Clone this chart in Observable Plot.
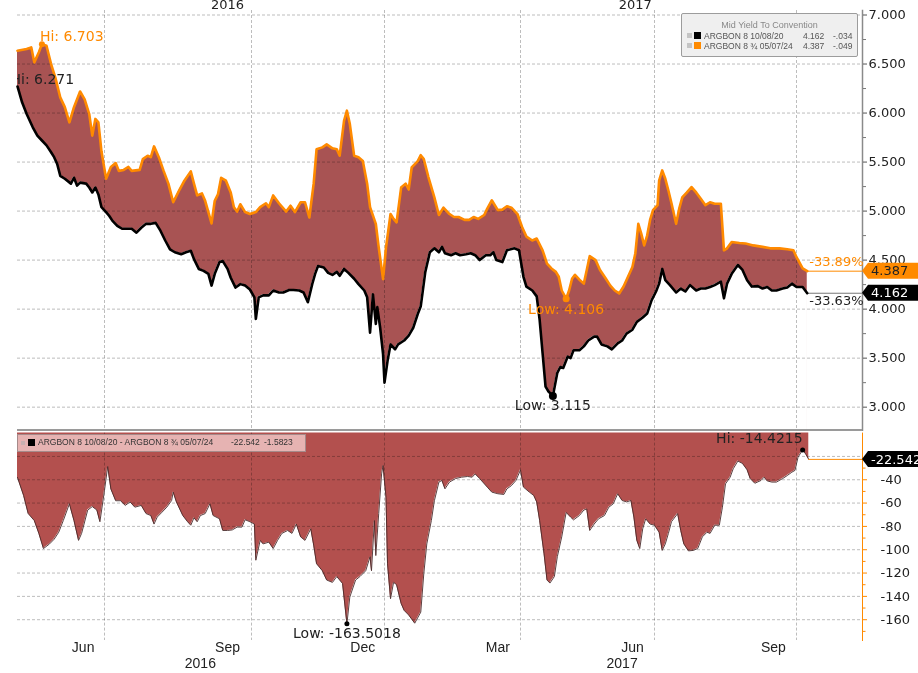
<!DOCTYPE html>
<html>
<head>
<meta charset="utf-8">
<script src="https://cdn.jsdelivr.net/npm/d3@7"></script>
<script src="https://cdn.jsdelivr.net/npm/@observablehq/plot@0.6"></script>
<style>
  html, body { margin: 0; padding: 0; background: #fff; }
  #wrap { position: relative; width: 918px; height: 673px; overflow: hidden; background: #fff; }
  #topChart { position: absolute; left: 0; top: 0; }
  #botChart { position: absolute; left: 0; top: 431px; }
  #sep { position: absolute; left: 17px; top: 429px; width: 845px; height: 2px; background: #9a9a9a; }
  .lg { position: absolute; font-family: "Liberation Sans", Arial, sans-serif; white-space: nowrap; }
  .lg span { position: absolute; }
  .lg .sq { display: block; }
  #leg1 { left: 681px; top: 13px; width: 175px; height: 42px; background: #efefef; border: 1px solid #9c9c9c; border-radius: 2px; color: #555; font-size: 8.5px; }
  #leg2 { left: 17px; top: 434px; width: 287px; height: 16px; background: rgba(238, 196, 196, 0.85); border: 1px solid #a58a8a; color: #333; font-size: 8.5px; }
</style>
</head>
<body>
<div id="wrap">
  <div id="topChart"></div>
  <div id="botChart"></div>
  <div id="sep"></div>
  <div id="leg1" class="lg"></div>
  <div id="leg2" class="lg"></div>
</div>
<script>
// ---------------- DATA (day numbers are days after 1 Jul 2016) ----------------
const orangeName = "ARGBON 8 \u00BE 05/07/24";
const blackName = "ARGBON 8 10/08/20";
const legendTitle = "Mid Yield To Convention";
const orangeChange = "-.049";
const blackChange = "-.034";
const spreadChange = "-1.5823";
const orangePct = "-33.89%";
const blackPct = "-33.63%";

const orangeDay = [-57,-51,-48,-46,-43,-41,-38,-35,-32,-29,-26,-23,-20,-16,-13,-10,-8,-6,-4,-2,
  1,4,7,9,12,15,17,22,24,27,29,31,34,37,40,43,47,50,54,56,58,61,63,67,69,71,73,76,79,81,83,85,88,91,
  95,98,102,104,107,111,116,119,122,126,129,132,135,137,141,144,148,151,153,156,158,160,163,166,169,172,174,178,180,183,
  185,188,190,192,195,198,200,202,206,208,210,213,217,220,223,227,230,233,237,240,243,246,250,252,255,259,262,265,268,272,
  275,278,282,285,289,292,295,298,300,302,305,307,309,311,314,317,319,321,325,328,332,335,338,341,344,347,350,352,354,356,358,360,362,364,
  367,368,370,372,374,376,379,381,383,386,389,392,395,398,401,404,408,410,412,415,420,424,429,435,440,446,451,455,457,461,464];
const orangeYield = [6.636,6.653,6.67,6.517,6.62,6.703,6.687,6.5,6.35,6.16,6.06,5.905,6.06,6.22,6.14,5.99,5.77,5.94,5.905,5.61,
  5.33,5.45,5.49,5.41,5.42,5.45,5.41,5.42,5.53,5.565,5.55,5.66,5.55,5.41,5.28,5.09,5.22,5.31,5.405,5.28,5.16,5.18,5.105,4.874,5.105,5.17,5.34,5.31,5.19,5.04,4.995,5.07,4.99,4.97,
  4.99,5.04,5.08,5.04,5.16,5.08,4.995,5.055,4.99,5.09,5.09,4.935,5.28,5.63,5.65,5.68,5.64,5.63,5.565,5.92,6.024,5.89,5.565,5.55,5.51,5.28,5.04,4.87,4.63,4.306,
  4.63,4.97,4.92,4.885,5.24,5.28,5.22,5.445,5.51,5.57,5.53,5.35,5.14,4.96,5.035,4.97,4.94,4.94,4.91,4.91,4.94,4.92,4.96,5.025,5.11,5.01,5.015,5.05,5.035,4.97,
  4.84,4.74,4.70,4.72,4.60,4.465,4.415,4.38,4.33,4.19,4.106,4.19,4.31,4.35,4.30,4.26,4.40,4.54,4.50,4.40,4.31,4.24,4.19,4.16,4.23,4.33,4.43,4.57,4.87,4.77,4.65,4.75,4.91,5.01,
  5.06,5.31,5.415,5.33,5.21,5.08,4.87,5.025,5.14,5.19,5.245,5.19,5.125,5.06,5.09,5.075,5.075,4.60,4.62,4.685,4.675,4.67,4.65,4.635,4.62,4.62,4.61,4.60,4.53,4.415,4.387];

const blackDay = [-57,-54,-51,-47,-44,-41,-38,-35,-33,-31,-29,-26,-22,-20,-18,-16,-12,-10,-8,-6,-4,-2,
  1,3,5,8,11,14,17,20,23,26,29,32,35,38,41,44,48,51,54,56,59,62,65,67,69,72,74,77,79,82,85,88,91,
  94,95,97,100,104,107,111,114,118,121,125,128,131,134,136,138,142,145,148,151,153,156,159,163,166,170,172,174,176,178,179,181,183,
  184,186,188,191,193,197,200,203,206,208,211,214,217,220,222,224,228,231,234,238,241,244,247,251,254,256,258,262,265,270,273,
  276,278,282,285,287,289,291,293,296,299,301,303,306,308,310,314,317,320,324,326,329,333,336,340,343,346,350,353,357,360,363,
  366,368,370,372,375,379,382,385,388,392,395,398,401,404,408,410,412,415,419,422,425,428,432,435,438,441,444,448,451,454,457,461,464];
const blackYield = [6.271,6.11,5.99,5.855,5.77,5.72,5.67,5.60,5.55,5.48,5.36,5.33,5.28,5.34,5.26,5.29,5.28,5.24,5.19,5.24,5.17,5.04,
  4.99,4.95,4.90,4.85,4.82,4.82,4.82,4.78,4.83,4.87,4.87,4.88,4.80,4.70,4.61,4.58,4.56,4.58,4.595,4.51,4.41,4.39,4.36,4.24,4.36,4.48,4.49,4.41,4.32,4.22,4.255,4.24,4.20,
  4.12,3.90,4.12,4.14,4.14,4.19,4.17,4.17,4.195,4.195,4.19,4.17,4.07,4.255,4.36,4.44,4.425,4.37,4.35,4.38,4.34,4.41,4.37,4.31,4.255,4.19,4.12,3.76,4.15,3.85,4.02,3.81,3.54,
  3.25,3.47,3.64,3.59,3.64,3.68,3.73,3.81,3.95,4.03,4.38,4.58,4.62,4.58,4.635,4.57,4.55,4.57,4.55,4.56,4.57,4.55,4.50,4.55,4.55,4.58,4.50,4.48,4.60,4.62,4.60,
  4.33,4.23,4.19,4.13,3.89,3.55,3.21,3.16,3.115,3.35,3.41,3.40,3.515,3.50,3.58,3.58,3.62,3.68,3.72,3.72,3.64,3.62,3.59,3.65,3.68,3.75,3.79,3.87,3.915,3.955,4.09,
  4.18,4.26,4.41,4.295,4.245,4.17,4.21,4.18,4.245,4.19,4.21,4.21,4.225,4.245,4.28,4.11,4.26,4.36,4.45,4.40,4.295,4.23,4.235,4.21,4.225,4.19,4.19,4.21,4.22,4.26,4.225,4.225,4.162];

const spreadDay = [-57,-53,-50,-46,-43,-40,-36,-33,-30,-27,-23,-20,-17,-15,-11,-8,-5,-3,0,
  2,4,7,10,13,16,19,23,26,29,31,33,36,39,42,43,45,49,52,54,56,58,60,63,66,68,72,74,77,80,83,86,88,91,
  94,95,98,100,104,107,110,113,117,120,123,126,129,133,135,137,141,144,148,151,155,158,160,164,167,171,174,175,177,178,180,182,183,
  185,186,188,190,192,195,197,200,204,208,210,212,215,217,220,222,224,227,231,235,239,242,244,247,252,255,259,263,265,268,271,
  274,276,280,283,285,287,290,292,294,297,299,302,305,308,310,314,317,319,321,324,327,331,334,337,340,343,346,349,351,353,355,357,359,362,
  365,368,370,372,374,376,380,382,384,387,390,393,396,399,401,404,407,409,411,414,416,419,422,425,427,430,434,436,438,441,444,448,451,454,456,
  458,461,463,465];
const spreadBp = [-38,-53.5,-69,-75,-86,-99,-95,-91,-85,-75,-60.6,-75,-92,-86,-66,-63,-66,-76,-49,
  -28.6,-48,-58,-58,-62,-59,-63.5,-62,-69,-70.7,-78,-72,-67.8,-63.5,-57.8,-50.6,-59,-70.7,-76,-79,-72.6,-76,-70.7,-69,-60.6,-70.7,-73.5,-83.5,-83.5,-83,-80.6,-80.6,-74.3,-76,
  -78,-109,-92,-95,-93.5,-99,-92,-86,-83.5,-86,-78,-89,-92,-82,-96,-112,-118,-126,-128,-123,-129,-163.5018,-140.6,-126,-123,-118,-106,-118,-75,-105,-69,-35,-27.8,
  -55,-112,-142,-128,-130,-146,-152,-156,-163,-153.5,-120.6,-95,-75,-58,-42,-40.6,-47.8,-42,-39,-37.8,-37.2,-37.8,-35,-39,-46.3,-50.6,-52,-52.6,-47.8,-45,-40.6,
  -31.5,-46.3,-50.6,-53.5,-59,-75,-103.5,-126,-128.6,-123,-106,-89,-68,-72,-74.4,-70.7,-66,-65,-83.5,-78,-73.5,-70.7,-63.5,-60.6,-52,-57.8,-59,-57.8,-72,-92,-99,-82,-73.5,-78,
  -79,-85,-100.6,-95,-86,-76,-69,-83.5,-95,-101,-100.6,-99,-89,-85,-86,-79,-79,-63.5,-43.5,-37.8,-30.6,-24,-26,-31.5,-39,-43,-40.6,-37.8,-41,-42,-42,-39,-36.4,-33.5,-32,
  -20.6,-14.4215,-18,-22.542];

// axis / tick definitions
const axisBreakDates = ["2016-05-05","2016-07-01","2016-10-01","2017-01-01","2017-04-01","2017-07-01","2017-10-01","2017-11-13"];
const axisBreakPixels = [17, 104, 251, 384, 520, 654, 796, 862];
const gridDates = ["2016-07-01","2016-10-01","2017-01-01","2017-04-01","2017-07-01","2017-10-01"];
const monthTickDates = ["2016-06-17","2016-09-16","2016-12-17","2017-03-17","2017-06-16","2017-09-16"];
const monthTickLabels = ["Jun","Sep","Dec","Mar","Jun","Sep"];
const yearBottomDates = ["2016-08-30","2017-06-09"];
const yearTopDates = ["2016-09-16","2017-06-18"];
const yearLabels = ["2016","2017"];
const yieldTicks = [3, 3.5, 4, 4.5, 5, 5.5, 6, 6.5, 7];
const yieldMinorTicks = [3.25, 3.75, 4.25, 4.75, 5.25, 5.75, 6.25, 6.75];
const spreadTicks = [-40, -60, -80, -100, -120, -140, -160];
const spreadGrid = [-20, -40, -60, -80, -100, -120, -140, -160];
const spreadMinorTicks = [-30, -50, -70, -90, -110, -130, -150, -170];

// ---------------- BUILD ----------------
const day0 = Date.UTC(2016, 6, 1);
const toDate = d => new Date(day0 + d * 864e5);
const orange = orangeDay.map((d, i) => ({date: toDate(d), v: orangeYield[i]}));
const black = blackDay.map((d, i) => ({date: toDate(d), v: blackYield[i]}));
const spread = spreadDay.map((d, i) => ({date: toDate(d), v: spreadBp[i]}));
const xDomain = axisBreakDates.map(s => new Date(s));
const xEnd = xDomain[xDomain.length - 1];
const grid = gridDates.map(s => new Date(s));
const months = monthTickDates.map((s, i) => ({date: new Date(s), label: monthTickLabels[i]}));
const yearsBottom = yearBottomDates.map((s, i) => ({date: new Date(s), label: yearLabels[i]}));
const yearsTop = yearTopDates.map((s, i) => ({date: new Date(s), label: yearLabels[i]}));

const ORANGE = "#ff8a00";
const FILL_TOP = "#a85353";
const FILL_BOT = "#b3504e";
const GRID = "#bdbdbd";
const FONT = "DejaVu Sans";
const yMin = 2.762, yMax = 7.046;

const oMax = orange.reduce((a, b) => b.v > a.v ? b : a);
const oMin = orange.reduce((a, b) => b.v < a.v ? b : a);
const bMax = black.reduce((a, b) => b.v > a.v ? b : a);
const bMin = black.reduce((a, b) => b.v < a.v ? b : a);
const oLast = orange[orange.length - 1];
const bLast = black[black.length - 1];
const sMax = spread.reduce((a, b) => b.v > a.v ? b : a);
const sMin = spread.reduce((a, b) => b.v < a.v ? b : a);
const sLast = spread[spread.length - 1];

const xScale = {type: "utc", domain: xDomain, range: axisBreakPixels, axis: null};

const topPlot = Plot.plot({
  width: 918, height: 431,
  marginLeft: 17, marginRight: 56, marginTop: 10, marginBottom: 1,
  style: {background: "transparent", fontFamily: FONT},
  x: xScale,
  y: {domain: [yMin, yMax], range: [430, 10], axis: null},
  marks: [
    Plot.areaY(orange, {x: "date", y1: yMin, y2: "v", fill: FILL_TOP}),
    Plot.areaY(black, {x: "date", y1: yMin, y2: "v", fill: "white", stroke: "white", strokeWidth: 1.2}),
    Plot.gridY(yieldTicks, {stroke: GRID, strokeOpacity: 1, strokeDasharray: "3,2", mixBlendMode: "multiply"}),
    Plot.gridX(grid, {stroke: GRID, strokeOpacity: 1, strokeDasharray: "3,2", mixBlendMode: "multiply"}),
    Plot.ruleY([oLast], {x1: "date", x2: xEnd, y: "v", stroke: ORANGE, strokeWidth: 1}),
    Plot.ruleY([bLast], {x1: "date", x2: xEnd, y: "v", stroke: "#777", strokeWidth: 1}),
    Plot.line(orange, {x: "date", y: "v", stroke: ORANGE, strokeWidth: 2.6, strokeLinejoin: "round"}),
    Plot.line(black, {x: "date", y: "v", stroke: "#000", strokeWidth: 2.6, strokeLinejoin: "round"}),
    Plot.frame({anchor: "right", stroke: "#8a8a8a", strokeWidth: 1.5}),
    Plot.axisY({anchor: "right", label: null, ticks: yieldTicks, tickFormat: d3.format(".3f"), tickSize: 4, tickPadding: 2, fontSize: 13, stroke: "#555", fill: "#222"}),
    Plot.axisY({anchor: "right", label: null, ticks: yieldMinorTicks, tickFormat: () => "", tickSize: 3, stroke: "#777"}),
    Plot.dot([oMax], {x: "date", y: "v", r: 3, fill: ORANGE}),
    Plot.text([oMax], {x: "date", y: "v", text: d => "Hi: " + d.v.toFixed(3), textAnchor: "start", dx: -2, dy: -8, fill: ORANGE, fontSize: 14}),
    Plot.text([bMax], {x: "date", y: "v", text: d => "Hi: " + d.v.toFixed(3), textAnchor: "start", dx: -7, dy: -7, fill: "#222", fontSize: 14, clip: true}),
    Plot.dot([oMin], {x: "date", y: "v", r: 3.5, fill: ORANGE}),
    Plot.text([oMin], {x: "date", y: "v", text: d => "Low: " + d.v.toFixed(3), dy: 11, fill: ORANGE, fontSize: 14}),
    Plot.dot([bMin], {x: "date", y: "v", r: 4, fill: "#000"}),
    Plot.text([bMin], {x: "date", y: "v", text: d => "Low: " + d.v.toFixed(3), dy: 10, fill: "#222", fontSize: 14}),
    Plot.text([oLast], {x: "date", y: "v", text: () => orangePct, textAnchor: "start", dx: 2, dy: -9, fill: ORANGE, fontSize: 13}),
    Plot.text([bLast], {x: "date", y: "v", text: () => blackPct, textAnchor: "start", dx: 2, dy: 8, fill: "#222", fontSize: 13}),
    Plot.text(yearsTop, {x: "date", text: "label", frameAnchor: "top", dy: -11, fill: "#222", fontSize: 13})
  ]
});

const botPlot = Plot.plot({
  width: 918, height: 242,
  marginLeft: 17, marginRight: 56, marginTop: 1.6, marginBottom: 33,
  style: {background: "transparent", fontFamily: FONT},
  x: xScale,
  y: {domain: [-178, 0], range: [209.2, 1.6], axis: null},
  marks: [
    Plot.areaY(spread, {x: "date", y1: 0, y2: "v", fill: FILL_BOT}),
    Plot.gridY(spreadGrid, {stroke: GRID, strokeOpacity: 1, strokeDasharray: "3,2", mixBlendMode: "multiply"}),
    Plot.gridX(grid, {stroke: GRID, strokeOpacity: 1, strokeDasharray: "3,2", mixBlendMode: "multiply"}),
    Plot.line(spread, {x: "date", y: "v", stroke: "#4a2a2a", strokeWidth: 0.9}),
    Plot.ruleY([sLast], {x1: "date", x2: xEnd, y: "v", stroke: ORANGE, strokeWidth: 1}),
    Plot.frame({anchor: "right", stroke: ORANGE, strokeWidth: 1}),
    Plot.axisY({anchor: "right", label: null, ticks: spreadTicks, tickFormat: d => d, tickSize: 4, tickPadding: 14, fontSize: 13, stroke: ORANGE, fill: "#222"}),
    Plot.axisY({anchor: "right", label: null, ticks: spreadMinorTicks, tickFormat: () => "", tickSize: 2.5, stroke: ORANGE}),
    Plot.dot([sMax], {x: "date", y: "v", r: 2.5, fill: "#000"}),
    Plot.text([sMax], {x: "date", y: "v", text: d => "Hi: " + d.v.toFixed(4), textAnchor: "end", dx: 0, dy: -11, fill: "#222", fontSize: 14}),
    Plot.dot([sMin], {x: "date", y: "v", r: 2.5, fill: "#000"}),
    Plot.text([sMin], {x: "date", y: "v", text: d => "Low: " + d.v.toFixed(4), dy: 10, fill: "#222", fontSize: 14}),
    Plot.text(months, {x: "date", text: "label", frameAnchor: "bottom", dy: 11, fill: "#222", fontSize: 14, fontFamily: "Liberation Sans"}),
    Plot.text(yearsBottom, {x: "date", text: "label", frameAnchor: "bottom", dy: 27, fill: "#222", fontSize: 14, fontFamily: "Liberation Sans"})
  ]
});

function addTag(svg, y, label, bg, fg) {
  const s = d3.select(svg);
  const x0 = 862, w = 60, h = 16;
  s.append("path")
    .attr("d", `M${x0},${y}L${x0 + 6},${y - h / 2}H${x0 + w}V${y + h / 2}H${x0 + 6}Z`)
    .attr("fill", bg);
  s.append("text")
    .attr("x", x0 + 9).attr("y", y).attr("dy", "0.36em")
    .attr("text-anchor", "start")
    .attr("fill", fg).attr("font-family", FONT).attr("font-size", 13)
    .text(label);
}
const yTop = topPlot.scale("y");
const yBot = botPlot.scale("y");
addTag(topPlot, yTop.apply(oLast.v), oLast.v.toFixed(3), ORANGE, "#222");
addTag(topPlot, yTop.apply(bLast.v), bLast.v.toFixed(3), "#000", "#fff");
addTag(botPlot, yBot.apply(sLast.v), sLast.v.toFixed(3), "#000", "#fff");

document.getElementById("topChart").appendChild(topPlot);
document.getElementById("botChart").appendChild(botPlot);

// legends
function sq(parent, left, top, size, color) {
  const e = document.createElement("span");
  e.className = "sq";
  Object.assign(e.style, {left: left + "px", top: top + "px", width: size + "px", height: size + "px", background: color});
  parent.appendChild(e);
}
function txt(parent, left, top, text, extra) {
  const e = document.createElement("span");
  e.textContent = text;
  Object.assign(e.style, {left: left + "px", top: top + "px"}, extra || {});
  parent.appendChild(e);
}
const leg1 = document.getElementById("leg1");
txt(leg1, 0, 6, legendTitle, {width: "175px", textAlign: "center", color: "#888", fontSize: "9px"});
sq(leg1, 5, 19, 5, "#c4c4c4"); sq(leg1, 12, 18, 7, "#000");
txt(leg1, 22, 17, blackName); txt(leg1, 121, 17, bLast.v.toFixed(3)); txt(leg1, 151, 17, blackChange);
sq(leg1, 5, 29, 5, "#c4c4c4"); sq(leg1, 12, 28, 7, ORANGE);
txt(leg1, 22, 27, orangeName); txt(leg1, 121, 27, oLast.v.toFixed(3)); txt(leg1, 151, 27, orangeChange);

const leg2 = document.getElementById("leg2");
sq(leg2, 3, 6, 4, "#c8b0b0"); sq(leg2, 10, 4, 7, "#000");
txt(leg2, 20, 2, blackName + " - " + orangeName);
txt(leg2, 213, 2, sLast.v.toFixed(3));
txt(leg2, 246, 2, spreadChange);
</script>
</body>
</html>
